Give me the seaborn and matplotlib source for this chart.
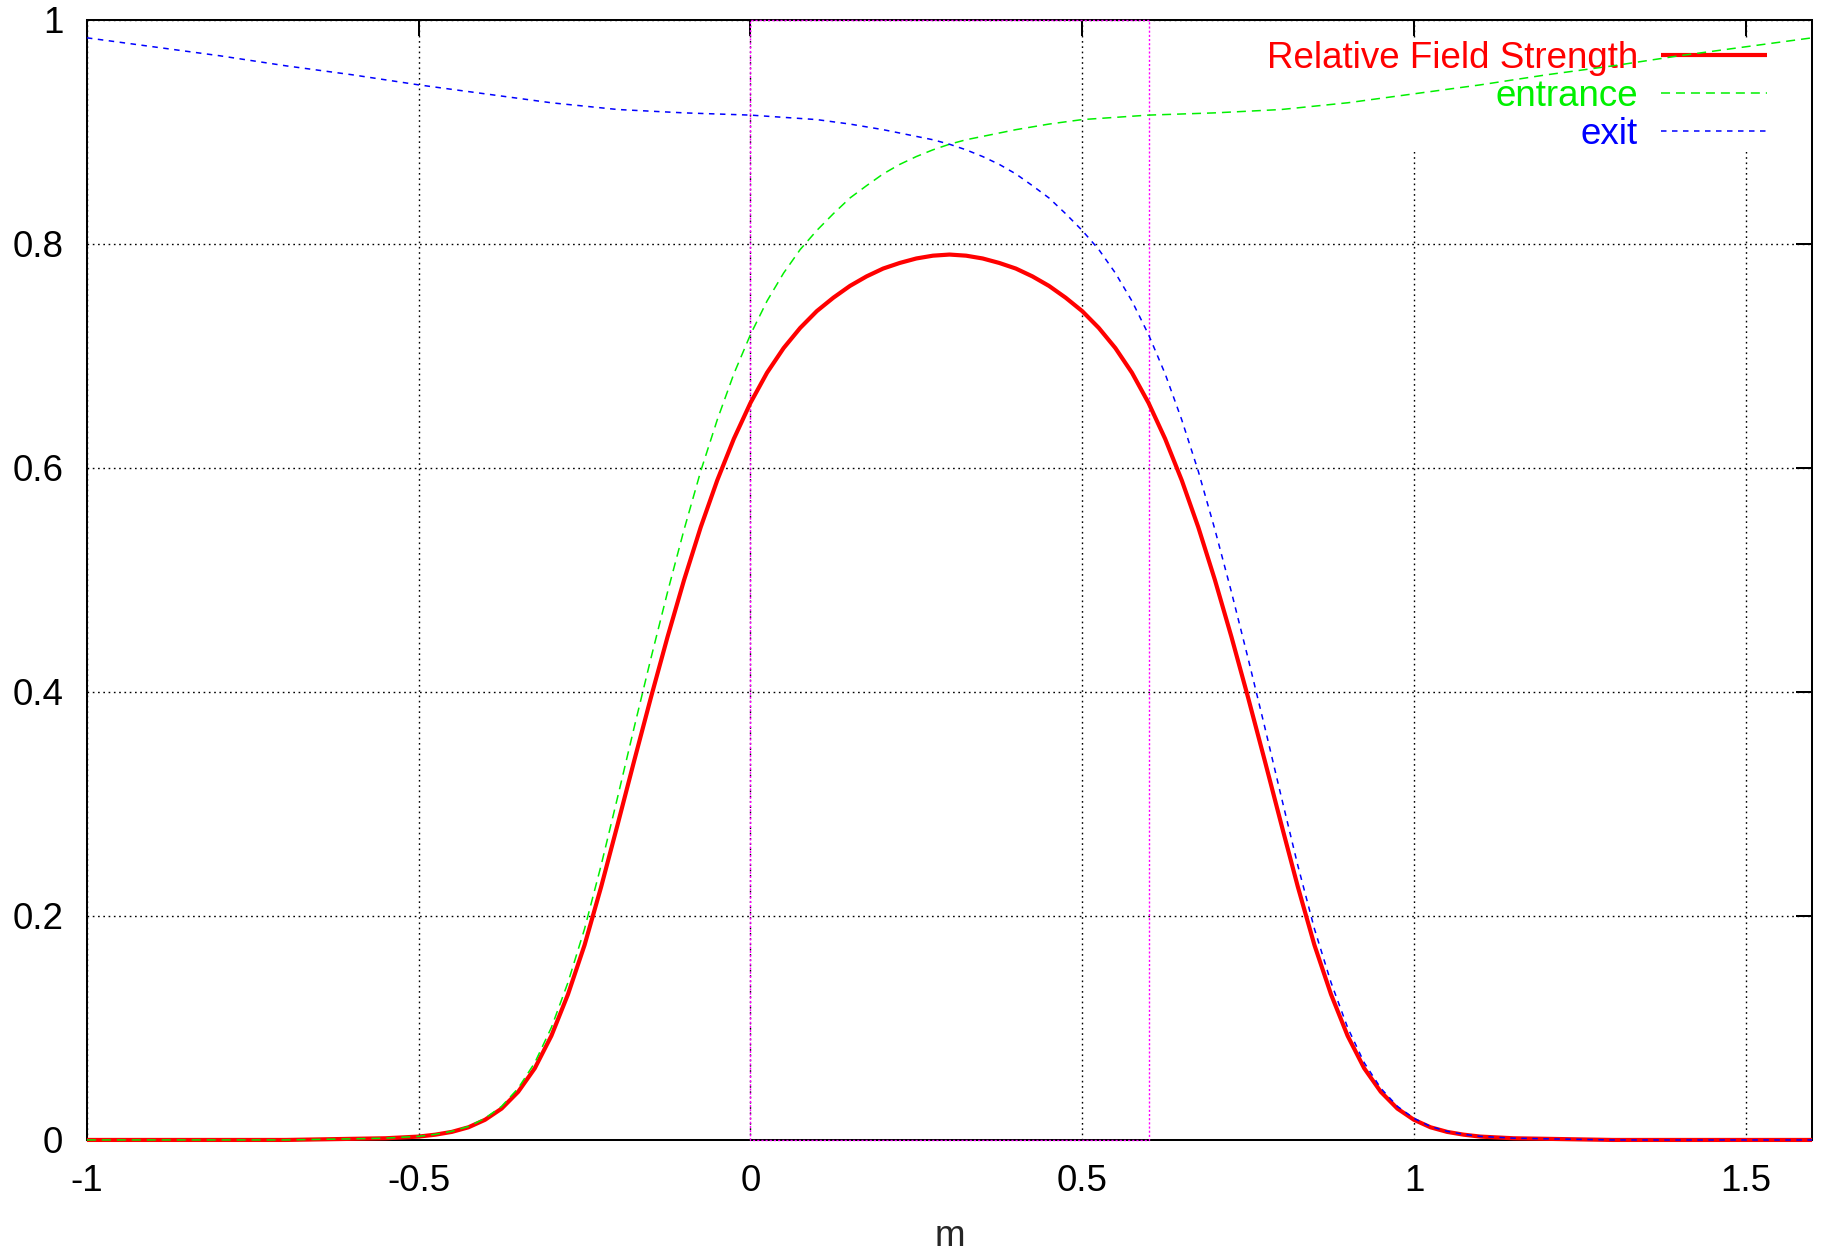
import matplotlib
matplotlib.use("Agg")
import matplotlib.pyplot as plt
import seaborn as sns
import pandas as pd

# Entrance fringe field, sampled along the magnet axis (m)
s_entrance = [-1.0, -0.9, -0.8, -0.7, -0.6, -0.55, -0.5, -0.475, -0.45, -0.425,
              -0.4, -0.375, -0.35, -0.325, -0.3, -0.275, -0.25, -0.225, -0.2, -0.175,
              -0.15, -0.125, -0.1, -0.075, -0.05, -0.025, 0.0, 0.025, 0.05, 0.075,
              0.1, 0.125, 0.15, 0.175, 0.2, 0.225, 0.25, 0.275, 0.3, 0.325,
              0.35, 0.375, 0.4, 0.45, 0.5, 0.55, 0.6, 0.7, 0.8, 0.9,
              1.0, 1.1, 1.2, 1.3, 1.4, 1.5, 1.6]
entrance = [0.0, 0.0, 0.0, 0.0, 0.001, 0.0016, 0.0032, 0.005, 0.0077, 0.012,
            0.0193, 0.030, 0.0462, 0.069, 0.1004, 0.1406, 0.1885, 0.2453, 0.3065, 0.3689,
            0.430, 0.489, 0.545, 0.597, 0.643, 0.684, 0.719, 0.749, 0.774, 0.795,
            0.812, 0.827, 0.841, 0.852, 0.8625, 0.871, 0.878, 0.884, 0.889, 0.893,
            0.896, 0.899, 0.902, 0.907, 0.911, 0.913, 0.915, 0.917, 0.920, 0.926,
            0.934, 0.942, 0.951, 0.959, 0.968, 0.976, 0.984]

# Exit fringe field
s_exit = [-1.0, -0.9, -0.8, -0.7, -0.6, -0.5, -0.4, -0.3, -0.2, -0.1,
          0.0, 0.05, 0.1, 0.15, 0.2, 0.225, 0.25, 0.275, 0.3, 0.325,
          0.35, 0.375, 0.4, 0.425, 0.45, 0.475, 0.5, 0.525, 0.55, 0.575,
          0.6, 0.625, 0.65, 0.675, 0.7, 0.725, 0.75, 0.775, 0.8, 0.825,
          0.85, 0.875, 0.9, 0.925, 0.95, 0.975, 1.0, 1.025, 1.05, 1.075,
          1.1, 1.15, 1.2, 1.3, 1.4, 1.5, 1.6]
exit_ = [0.984, 0.976, 0.968, 0.959, 0.951, 0.942, 0.934, 0.926, 0.920, 0.917,
         0.915, 0.913, 0.911, 0.907, 0.902, 0.899, 0.896, 0.893, 0.889, 0.884,
         0.878, 0.871, 0.8625, 0.852, 0.841, 0.827, 0.812, 0.795, 0.774, 0.749,
         0.719, 0.684, 0.643, 0.597, 0.545, 0.489, 0.430, 0.369, 0.3065, 0.245,
         0.1885, 0.1406, 0.1004, 0.069, 0.0462, 0.030, 0.0193, 0.012, 0.0077, 0.005,
         0.0032, 0.0016, 0.001, 0.0, 0.0, 0.0, 0.0]

# Combined relative field strength
s_field = [-1.0, -0.9, -0.8, -0.7, -0.6, -0.55, -0.5, -0.475, -0.45, -0.425,
           -0.4, -0.375, -0.35, -0.325, -0.3, -0.275, -0.25, -0.225, -0.2, -0.175,
           -0.15, -0.125, -0.1, -0.075, -0.05, -0.025, 0.0, 0.025, 0.05, 0.075,
           0.1, 0.125, 0.15, 0.175, 0.2, 0.225, 0.25, 0.275, 0.3, 0.325,
           0.35, 0.375, 0.4, 0.425, 0.45, 0.475, 0.5, 0.525, 0.55, 0.575,
           0.6, 0.625, 0.65, 0.675, 0.7, 0.725, 0.75, 0.775, 0.8, 0.825,
           0.85, 0.875, 0.9, 0.925, 0.95, 0.975, 1.0, 1.025, 1.05, 1.075,
           1.1, 1.15, 1.2, 1.3, 1.4, 1.5, 1.6]
field = [0.0, 0.0, 0.0, 0.0, 0.001, 0.0015, 0.003, 0.0047, 0.0072, 0.0113,
         0.018, 0.028, 0.043, 0.064, 0.093, 0.130, 0.174, 0.226, 0.282, 0.339,
         0.395, 0.449, 0.500, 0.547, 0.589, 0.626, 0.658, 0.685, 0.707, 0.725,
         0.740, 0.752, 0.7625, 0.771, 0.778, 0.783, 0.787, 0.7895, 0.7905, 0.7895,
         0.787, 0.783, 0.778, 0.771, 0.7625, 0.752, 0.740, 0.725, 0.707, 0.685,
         0.658, 0.626, 0.589, 0.547, 0.500, 0.449, 0.395, 0.339, 0.282, 0.226,
         0.174, 0.130, 0.093, 0.064, 0.043, 0.028, 0.018, 0.0113, 0.0072, 0.0047,
         0.003, 0.0015, 0.001, 0.0, 0.0, 0.0, 0.0]

# Hard-edge model: effective field boundaries and full strength
edge_s = [0.0, 0.6]
edge_level = 1.0

x_ticks = [-1, -0.5, 0, 0.5, 1, 1.5]
x_tick_labels = ["-1", "-0.5", "0", "0.5", "1", "1.5"]
y_ticks = [0, 0.2, 0.4, 0.6, 0.8, 1]
y_tick_labels = ["0", "0.2", "0.4", "0.6", "0.8", "1"]

sns.set_theme(style="white")
plt.rcParams["font.family"] = ["Liberation Sans", "DejaVu Sans"]
plt.rcParams["font.size"] = 26.5

fig = plt.figure(figsize=(18.3, 12.52), dpi=100)
ax = fig.add_axes([0.0475, 0.0895, 0.9427, 0.8946])

df_field = pd.DataFrame({"m": s_field, "v": field})
df_ent = pd.DataFrame({"m": s_entrance, "v": entrance})
df_exit = pd.DataFrame({"m": s_exit, "v": exit_})

sns.lineplot(data=df_field, x="m", y="v", ax=ax, color="#ff0000", lw=3.0,
             label="Relative Field Strength", clip_on=False, zorder=3.0,
             solid_capstyle="butt", solid_joinstyle="round")
sns.lineplot(data=df_ent, x="m", y="v", ax=ax, color="#00f000", lw=1.1,
             linestyle=(0, (5.9, 3.9)), label="entrance", clip_on=False, zorder=3.1)
sns.lineplot(data=df_exit, x="m", y="v", ax=ax, color="#0000ff", lw=1.1,
             linestyle=(0, (3.6, 3.6)), label="exit", clip_on=False, zorder=3.2)

# Hard-edge rectangle
x0, x1 = edge_s
ax.plot([x0, x0, x1, x1, x0], [0, edge_level, edge_level, 0, 0],
        color="#ff00ff", lw=1.0, linestyle=(0, (1.5, 1.5)), clip_on=False, zorder=2.8)

ax.set_xlim(-1, 1.6)
ax.set_ylim(0, 1)
ax.set_xticks(x_ticks)
ax.set_xticklabels(x_tick_labels)
ax.set_yticks(y_ticks)
ax.set_yticklabels(y_tick_labels)
ax.set_xlabel("m", fontsize=26.5, labelpad=14.5)
ax.set_ylabel("")

ax.set_axisbelow(True)
ax.grid(True, color="black", lw=1.0, linestyle=(0, (1.2, 2.6)))

for sp in ax.spines.values():
    sp.set_visible(True)
    sp.set_color("black")
    sp.set_linewidth(1.45)
    sp.set_zorder(2.6)

ax.tick_params(axis="both", direction="in", length=11.5, width=1.45,
               top=True, right=True, colors="black", labelsize=26.5)
ax.tick_params(axis="x", pad=17)
ax.tick_params(axis="y", pad=17)

leg = ax.legend(loc="upper right", bbox_to_anchor=(0.9739, 0.9815),
                borderaxespad=0, borderpad=0.0, frameon=True, fancybox=False,
                markerfirst=False, handlelength=2.88, handletextpad=0.63,
                labelspacing=0.08, fontsize=26.5, labelcolor="linecolor")
leg.get_frame().set_facecolor("white")
leg.get_frame().set_edgecolor("none")
leg.get_frame().set_alpha(1.0)
leg.set_zorder(1.0)

fig.savefig("out.png", dpi=100)
